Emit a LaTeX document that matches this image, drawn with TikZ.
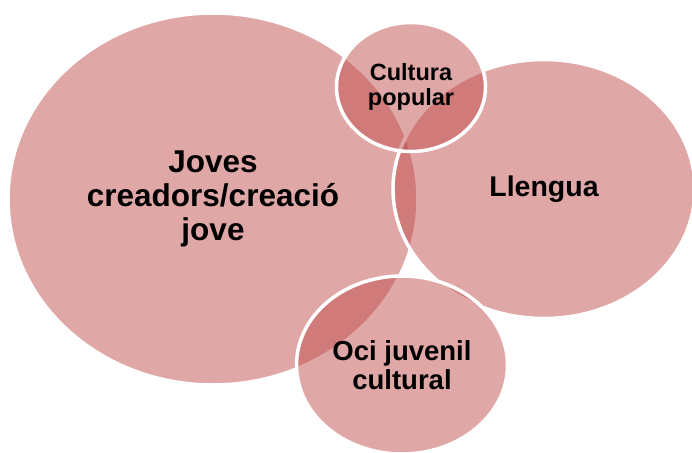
\documentclass[tikz,border=0pt]{standalone}
\usepackage{fontspec}
\setmainfont{Liberation Sans}
\usetikzlibrary{shapes.geometric}
\definecolor{petal}{RGB}{192,80,77}
\tikzset{
  bubble/.style={ellipse, inner sep=0pt, fill=petal, fill opacity=0.5, text opacity=1,
    draw=white, line width=3.5pt, align=center, text=black},
}
\begin{document}
\begin{tikzpicture}[x=1pt,y=-1pt]
\useasboundingbox (0,0) rectangle (692,452);
\node[bubble, minimum width=410pt, minimum height=372pt,
  font=\bfseries\fontsize{31.5}{34}\selectfont] (joves) at (213,199) {Joves\\creadors/creació\\jove};
\node[bubble, minimum width=302pt, minimum height=259pt,
  font=\bfseries\fontsize{28.5}{30}\selectfont] (llengua) at (544,189) {Llengua};
\node[bubble, minimum width=149pt, minimum height=129pt,
  font=\bfseries\fontsize{23.5}{25}\selectfont] (cultura) at (411,87) {Cultura\\popular};
\node[bubble, minimum width=211pt, minimum height=178pt,
  font=\bfseries\fontsize{27.5}{29}\selectfont] (oci) at (402,365) {Oci juvenil\\cultural};
\end{tikzpicture}
\end{document}
